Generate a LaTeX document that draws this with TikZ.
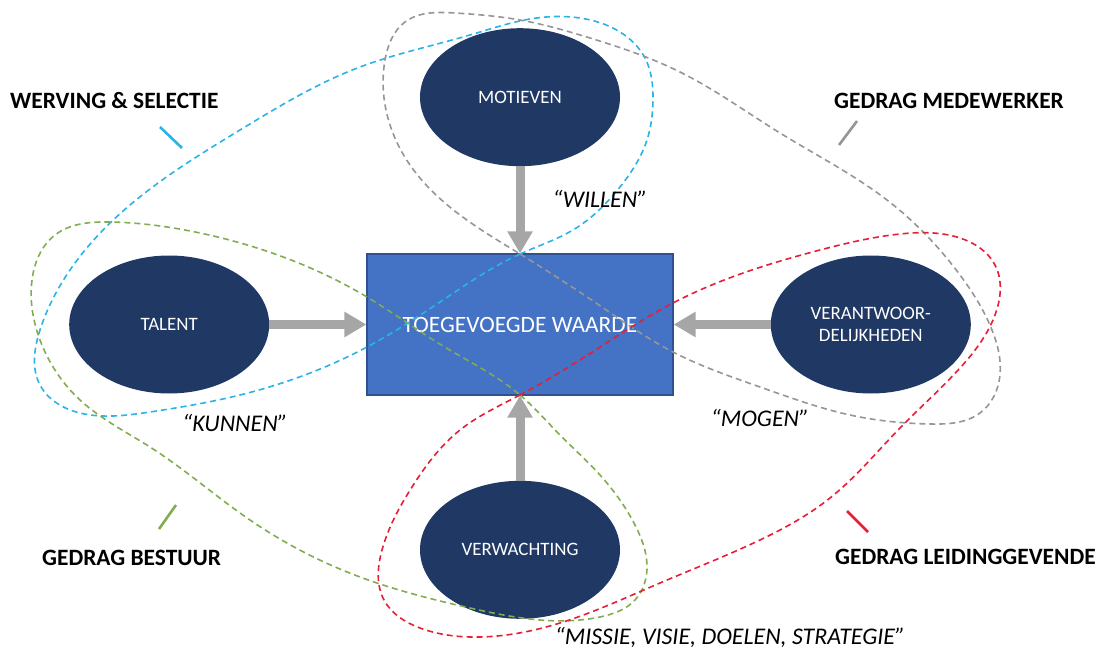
\documentclass[tikz,border=0pt]{standalone}
\usepackage{fontspec}
\setmainfont{Carlito}
\usepackage{tikz}
\usetikzlibrary{shapes.geometric, arrows.meta, positioning, hobby}
\definecolor{navy}{RGB}{31, 56, 100}
\definecolor{kernblue}{RGB}{68, 114, 196}
\definecolor{kernedge}{RGB}{47, 82, 143}
\definecolor{arrowgray}{RGB}{166, 166, 166}
\definecolor{wervblue}{RGB}{40, 180, 230}
\definecolor{medegray}{RGB}{150, 150, 150}
\definecolor{bestgreen}{RGB}{130, 172, 80}
\definecolor{leidred}{RGB}{232, 30, 55}

\begin{document}
\begin{tikzpicture}[x=1bp, y=-1bp,
        factor/.style={ellipse, fill=navy, text=white, inner sep=0pt,
            minimum width=200bp, minimum height=138bp, align=center,
            font=\fontsize{19}{22}\selectfont},
        centre/.style={rectangle, fill=kernblue, draw=kernedge, line width=1.2bp,
            minimum width=306bp, minimum height=141bp, text=white,
            font=\fontsize{23.5}{28}\selectfont},
        arrow/.style={-{Triangle[length=22bp, width=24bp]}, line width=9bp, color=arrowgray},
        group/.style={dash pattern=on 6bp off 4bp, line width=1.6bp,
            use Hobby shortcut, closed=true},
        tick/.style={line width=2.6bp},
        tag/.style={anchor=west, inner sep=0pt, font=\fontsize{23.5}{28}\selectfont\bfseries},
        quote/.style={inner sep=0pt, font=\fontsize{24}{28}\selectfont\itshape}
        ]
        \useasboundingbox (0,0) rectangle (1104,653);

        % kern en factoren
        \node[centre] (waarde) at (520,324.5) {TOEGEVOEGDE WAARDE};
        \node[factor, above=87bp of waarde] (motieven) {MOTIEVEN};
        \node[factor, left=97bp of waarde] (talent) {TALENT};
        \node[factor, right=97bp of waarde] (verantw) {VERANTWOOR-\\DELIJKHEDEN};
        \node[factor, below=85bp of waarde] (verwachting) {VERWACHTING};

        \draw[arrow] (motieven) -- (waarde);
        \draw[arrow] (talent) -- (waarde);
        \draw[arrow] (verantw) -- (waarde);
        \draw[arrow] (verwachting) -- (waarde);

        % groepen
        \draw[group, wervblue] (520,254) .. (573,230) .. (620,187) .. (647,140)
            .. (653,100) .. (645,58) .. (620,32) .. (580,18) .. (530,19) .. (470,35)
            .. (360,67) .. (240,130) .. (130,205) .. (70,270) .. (40,330)
            .. (40,385) .. (80,413) .. (150,412) .. (240,395) .. (367,347) .. (443,300);
        \draw[group, medegray] (520,254) .. (596,303) .. (673,352) .. (760,387)
            .. (850,415) .. (930,424) .. (980,413) .. (1000,375) .. (992,330)
            .. (960,275) .. (887,200) .. (780,133) .. (680,72) .. (590,38) .. (520,20)
            .. (455,13) .. (405,22) .. (385,60) .. (386,110) .. (410,165) .. (460,215);
        \draw[group, bestgreen] (520,395) .. (560,435) .. (600,475) .. (635,525)
            .. (647,565) .. (635,600) .. (600,617) .. (540,620) .. (470,608)
            .. (360,577) .. (250,520) .. (150,447) .. (80,400) .. (40,340)
            .. (32,280) .. (55,235) .. (110,222) .. (200,233) .. (367,297) .. (443,346);
        \draw[group, leidred] (520,395) .. (460,430) .. (412,487) .. (382,550)
            .. (384,600) .. (420,628) .. (480,637) .. (560,623) .. (660,583)
            .. (760,540) .. (830,498) .. (900,428) .. (960,368) .. (995,315)
            .. (995,265) .. (960,238) .. (900,234) .. (820,250) .. (673,303) .. (597,349);

        % labels
        \node[tag] (werving) at (10,101) {WERVING \& SELECTIE};
        \node[tag] (medewerker) at (834,101) {GEDRAG MEDEWERKER};
        \node[tag] (bestuur) at (42,558) {GEDRAG BESTUUR};
        \node[tag] (leiding) at (835,557) {GEDRAG LEIDINGGEVENDE};

        \draw[tick, wervblue] (160,127) -- (182,148);
        \draw[tick, medegray] (857,121) -- (839,145);
        \draw[tick, bestgreen] (176,505) -- (159,529);
        \draw[tick, leidred] (847,511) -- (868,532);

        \node[quote] (willen) at (600,199) {“WILLEN”};
        \node[quote] (kunnen) at (235,423) {“KUNNEN”};
        \node[quote] (mogen) at (760,418) {“MOGEN”};
        \node[quote] (missie) at (730,637) {“MISSIE, VISIE, DOELEN, STRATEGIE”};
    \end{tikzpicture}
\end{document}
